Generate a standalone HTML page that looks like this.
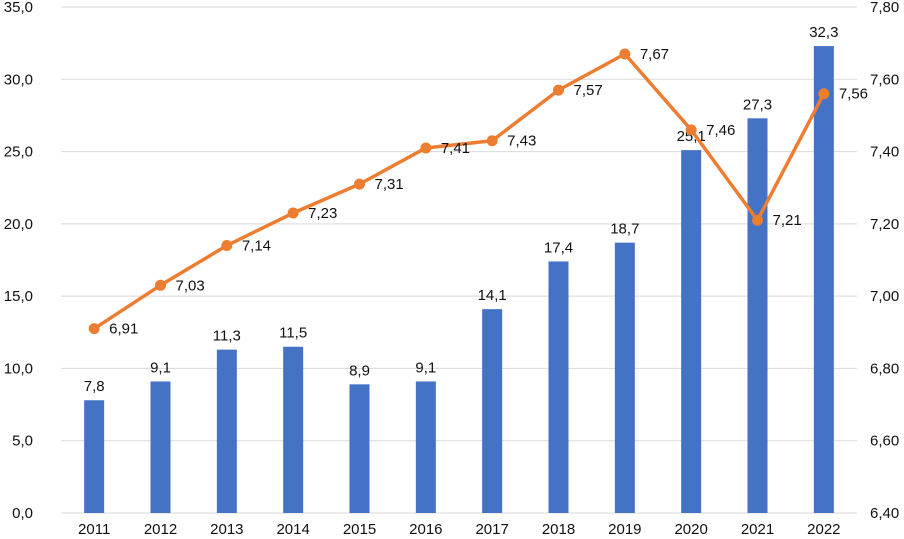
<!DOCTYPE html>
<html><head><meta charset="utf-8"><style>
body{margin:0;background:#fff;}
svg{display:block;font-family:"Liberation Sans",Arial,sans-serif;}
</style></head><body>
<svg id="c" width="904" height="539"></svg>
<script>
const years=["2011","2012","2013","2014","2015","2016","2017","2018","2019","2020","2021","2022"];
const bars=[7.8,9.1,11.3,11.5,8.9,9.1,14.1,17.4,18.7,25.1,27.3,32.3];
const line=[6.91,7.03,7.14,7.23,7.31,7.41,7.43,7.57,7.67,7.46,7.21,7.56];
const leftTicks=[0,5,10,15,20,25,30,35];
const rightTicks=[6.4,6.6,6.8,7.0,7.2,7.4,7.6,7.8];
const NS="http://www.w3.org/2000/svg";
const svg=document.getElementById('c');
const L=61,R=857,T=7,B=513;
const TC='#111';
const step=(R-L)/years.length;
const xc=i=>L+step*(i+0.5);
const yl=v=>B-(v/35)*(B-T);
const yr=v=>B-((v-6.4)/1.4)*(B-T);
function mk(tag,attrs,txt){const e=document.createElementNS(NS,tag);for(const k in attrs)e.setAttribute(k,attrs[k]);if(txt!==undefined)e.textContent=txt;svg.appendChild(e);return e;}
leftTicks.forEach((t,i)=>{
  const g=mk('line',{x1:L,x2:R,y1:yl(t),y2:yl(t),stroke:'#d9d9d9','stroke-width':1});
  
  
  const lt=mk('text',{x:33,y:yl(t)+5,'text-anchor':'end','font-size':15,fill:TC},t.toFixed(1).replace('.',','));
  
  
});
rightTicks.forEach(t=>{
  const rt=mk('text',{x:870,y:yr(t)+5,'font-size':15,fill:TC},t.toFixed(2).replace('.',','));
  
  
});
years.forEach((y,i)=>{
  const xt=mk('text',{x:xc(i),y:534,'text-anchor':'middle','font-size':15,fill:TC},y);
  
  
});
bars.forEach((v,i)=>{
  const b=mk('rect',{x:xc(i)-10,y:yl(v),width:20,height:B-yl(v),fill:'#4472C4'});
  
  
  const bl=mk('text',{x:xc(i),y:yl(v)-9,'text-anchor':'middle','font-size':15,fill:TC},v.toFixed(1).replace('.',','));
  
  
});
const pts=line.map((v,i)=>xc(i)+','+yr(v)).join(' ');
const pl=mk('polyline',{points:pts,fill:'none',stroke:'#ED7D31','stroke-width':3.5,'stroke-linejoin':'round'});


line.forEach((v,i)=>{
  const c=mk('circle',{cx:xc(i),cy:yr(v),r:5.5,fill:'#ED7D31'});
  
  
  const t=mk('text',{x:xc(i)+15,y:yr(v)+5,'font-size':15,fill:TC},v.toFixed(2).replace('.',','));
  
  
});
</script>
</body></html>
